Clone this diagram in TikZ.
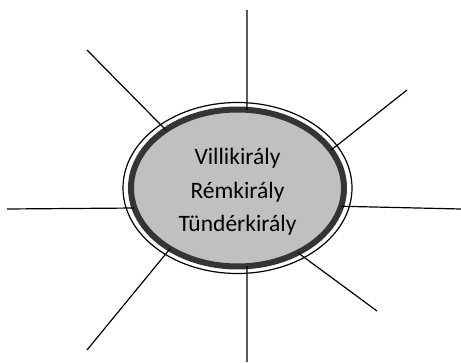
\documentclass[tikz,border=0pt]{standalone}
\usepackage{fontspec}
\setmainfont{Carlito}
\usetikzlibrary{shapes.geometric}
\definecolor{bandgray}{HTML}{353535}
\definecolor{fillgray}{HTML}{C0C0C0}
\tikzset{
  spoke/.style={line width=1.2pt, black},
  bandell/.style={ellipse, draw=bandgray, line width=6pt, fill=fillgray,
    inner sep=0pt, outer sep=0pt, minimum width=213pt, minimum height=157pt},
  outerell/.style={ellipse, draw=black, line width=1.2pt, inner sep=0pt,
    outer sep=0pt, minimum width=229pt, minimum height=171pt},
  labeltext/.style={align=center, inner sep=0pt, font=\fontsize{23.5}{33.5}\selectfont}
}
\begin{document}
\begin{tikzpicture}[x=1pt,y=-1pt]
\useasboundingbox (0,0) rectangle (461,363);
\node[outerell] (o) at (237.5,188) {};
\node[bandell] (c) at (237.5,188) {};
\node[labeltext] (txt) at (237.5,192) {Villikirály\\Rémkirály\\Tündérkirály};
\coordinate (pt) at (247,10);
\coordinate (pb) at (247,362);
\coordinate (pl) at (7,209);
\coordinate (pr) at (461,209);
\coordinate (pul) at (87,50);
\coordinate (pur) at (407,90);
\coordinate (pll) at (87,350);
\coordinate (plr) at (377,311);
\draw[spoke] (pt) -- (c.83.1);
\draw[spoke] (pb) -- (c.-83.3);
\draw[spoke] (pl) -- (c.-169.1);
\draw[spoke] (pr) -- (c.-10.9);
\draw[spoke] (pul) -- (c.141);
\draw[spoke] (pur) -- (c.22.5);
\draw[spoke] (pll) -- (c.-138.2);
\draw[spoke] (plr) -- (c.-47.6);
\end{tikzpicture}
\end{document}
